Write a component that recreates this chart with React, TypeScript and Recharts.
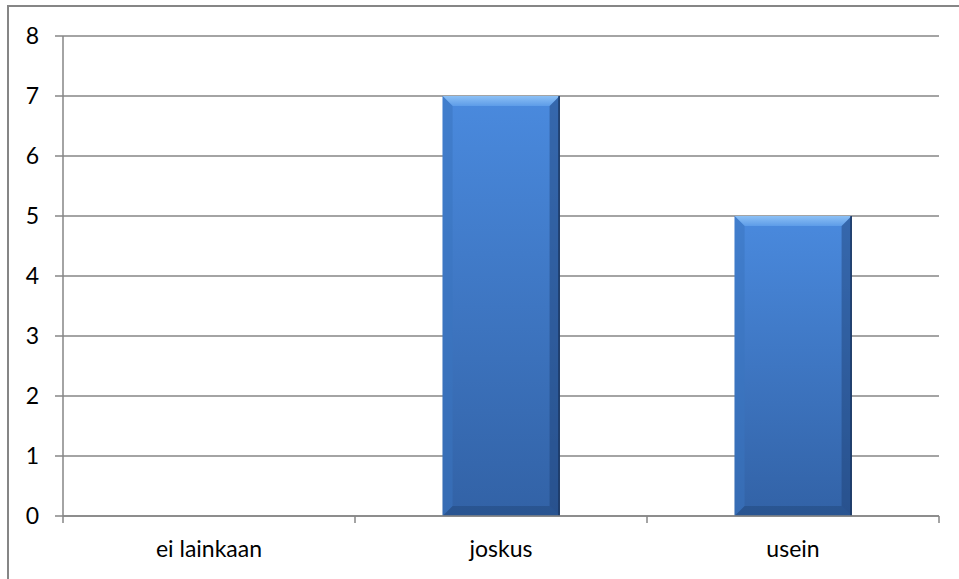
import React from 'react';
import { BarChart, Bar, XAxis, YAxis, CartesianGrid } from 'recharts';

const categories = ['ei lainkaan', 'joskus', 'usein'];
const values = [0, 7, 5];
const yTicks = [0, 1, 2, 3, 4, 5, 6, 7, 8];

const data = categories.map((name, i) => ({ name, value: values[i] }));

const AXIS = '#868686';
const FONT = 'Lato, "Open Sans", sans-serif';

// category label plus tick marks on the band edges, like the original
const CategoryTick = (props: any) => {
  const { x, y, width, payload, index, visibleTicksCount } = props;
  const band = width / visibleTicksCount;
  const left = x - band / 2;
  const right = x + band / 2;
  return (
    <g>
      <line x1={left} y1={y} x2={left} y2={y + 7} stroke={AXIS} strokeWidth={1.5} />
      {index === visibleTicksCount - 1 && (
        <line x1={right} y1={y} x2={right} y2={y + 7} stroke={AXIS} strokeWidth={1.5} />
      )}
      <text x={x} y={y + 41} textAnchor="middle" fontFamily={FONT} fontSize={23} fill="#000">
        {payload.value}
      </text>
    </g>
  );
};

const BevelBar = (props: any) => {
  const { x, y, width, height } = props;
  if (!height || height <= 0) return null;
  const b = Math.min(10, width / 4, height / 4);
  return (
    <g>
      <rect x={x} y={y} width={width} height={height} fill="url(#barBody)" />
      {/* top bevel */}
      <polygon
        points={`${x},${y} ${x + width},${y} ${x + width - b},${y + b} ${x + b},${y + b}`}
        fill="url(#barTop)"
      />
      {/* left bevel */}
      <polygon
        points={`${x},${y} ${x + b},${y + b} ${x + b},${y + height - b} ${x},${y + height}`}
        fill="#3a74c0"
        fillOpacity={0.55}
      />
      {/* right bevel */}
      <polygon
        points={`${x + width},${y} ${x + width - b},${y + b} ${x + width - b},${y + height - b} ${x + width},${y + height}`}
        fill="#1d3f72"
        fillOpacity={0.45}
      />
      {/* bottom bevel */}
      <polygon
        points={`${x},${y + height} ${x + b},${y + height - b} ${x + width - b},${y + height - b} ${x + width},${y + height}`}
        fill="#1f4478"
        fillOpacity={0.45}
      />
      <line x1={x + width - 0.5} y1={y} x2={x + width - 0.5} y2={y + height} stroke="#17335e" strokeWidth={1.5} />
    </g>
  );
};

export default function App() {
  return (
    <div
      style={{
        position: 'fixed',
        left: 0,
        top: 0,
        width: 959,
        height: 579,
        background: '#fff',
      }}
    >
      <div
        style={{
          position: 'absolute',
          left: 7,
          top: 5,
          right: 0,
          bottom: 0,
          borderTop: `2px solid ${AXIS}`,
          borderLeft: `2px solid ${AXIS}`,
        }}
      />
      <BarChart
        width={959}
        height={579}
        data={data}
        margin={{ top: 36, right: 20, left: 0, bottom: 0 }}
        barCategoryGap="30%"
        style={{ position: 'absolute', left: 0, top: 0 }}
      >
        <defs>
          <linearGradient id="barBody" x1="0" y1="0" x2="0" y2="1">
            <stop offset="0%" stopColor="#4a8ade" />
            <stop offset="100%" stopColor="#3262a6" />
          </linearGradient>
          <linearGradient id="barTop" x1="0" y1="0" x2="0" y2="1">
            <stop offset="0%" stopColor="#8cc0f5" />
            <stop offset="100%" stopColor="#5d9ce8" />
          </linearGradient>
        </defs>
        <CartesianGrid vertical={false} stroke={AXIS} strokeWidth={1.5} />
        <XAxis
          dataKey="name"
          height={63}
          interval={0}
          axisLine={{ stroke: AXIS, strokeWidth: 1.5 }}
          tickLine={false}
          tickSize={0}
          tickMargin={0}
          tick={CategoryTick}
        />
        <YAxis
          width={63}
          domain={[0, 8]}
          ticks={yTicks}
          interval={0}
          axisLine={{ stroke: AXIS, strokeWidth: 1.5 }}
          tickLine={{ stroke: AXIS, strokeWidth: 1.5 }}
          tickSize={8}
          tickMargin={16}
          tick={{ fontFamily: FONT, fontSize: 23, fill: '#000' }}
        />
        <Bar dataKey="value" shape={BevelBar} isAnimationActive={false} />
      </BarChart>
    </div>
  );
}
